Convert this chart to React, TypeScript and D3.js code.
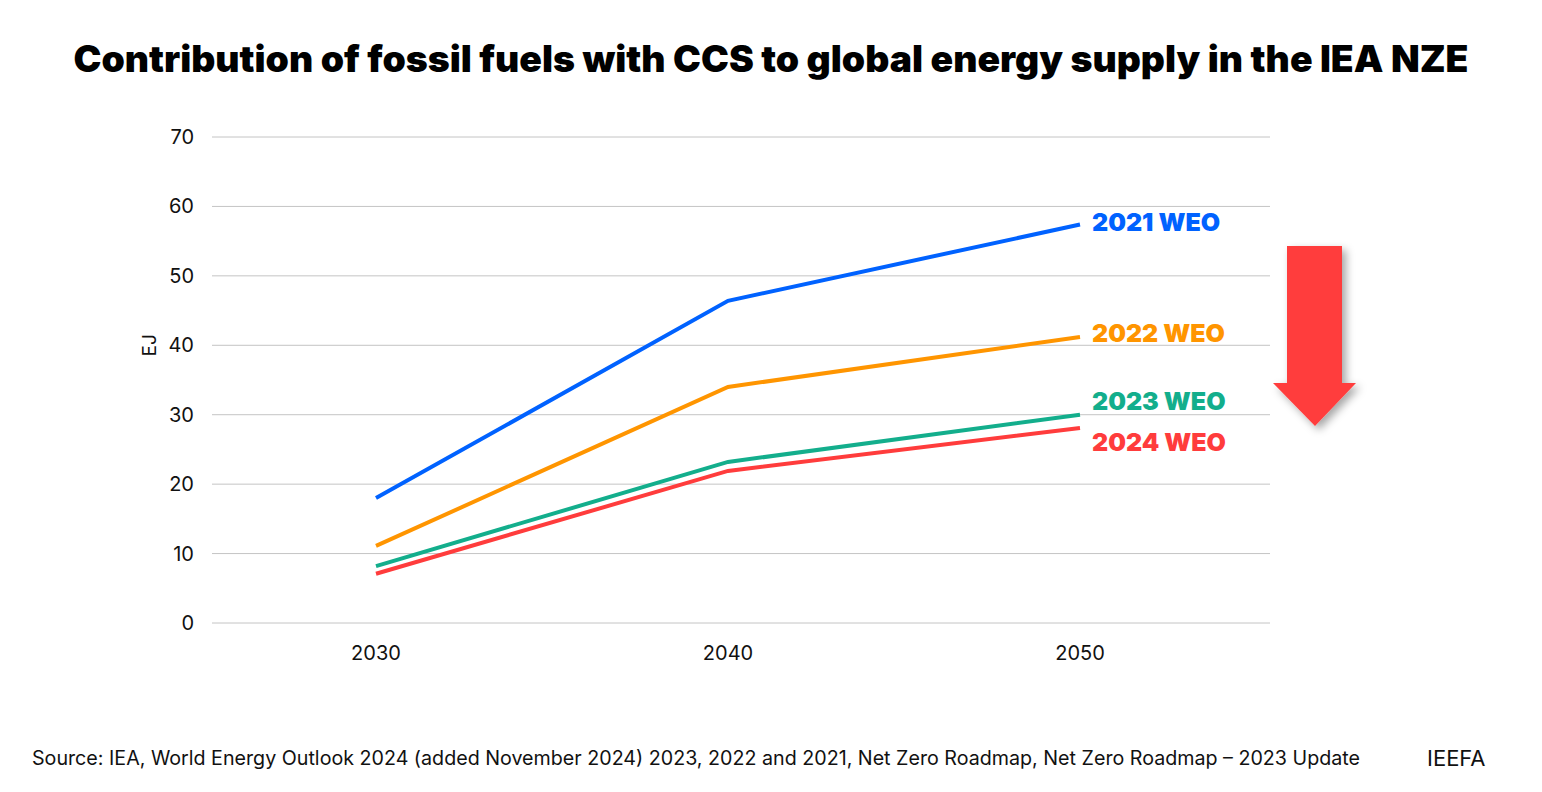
import React from "react";
import * as d3 from "d3";

const years = [2030, 2040, 2050];
const seriesNames = ["2021 WEO", "2022 WEO", "2023 WEO", "2024 WEO"];
const weo2021 = [18.0, 46.4, 57.4];
const weo2022 = [11.1, 34.0, 41.2];
const weo2023 = [8.2, 23.2, 30.0];
const weo2024 = [7.1, 21.9, 28.1];
const yTicks = [0, 10, 20, 30, 40, 50, 60, 70];
const colors = ["#0062FF", "#FF9500", "#13AE8C", "#FF3C3C"];
const labelY = [222, 333, 401, 442];

export default function App() {
  const W = 1542, H = 792;
  const x = d3.scalePoint<number>().domain(years).range([376, 1080]);
  const y = d3.scaleLinear().domain([0, 70]).range([623, 137]);
  const data = [weo2021, weo2022, weo2023, weo2024];
  const line = d3.line<number>().x((_, i) => x(years[i])!).y((v) => y(v));
  const font = "Inter, 'Noto Sans', sans-serif";
  return (
    <svg width={W} height={H} style={{ position: "absolute", left: 0, top: 0, background: "#fff" }}>
      <defs>
        <filter id="sh" x="-50%" y="-50%" width="200%" height="200%">
          <feDropShadow dx="4" dy="4" stdDeviation="4" floodColor="#000" floodOpacity="0.35" />
        </filter>
      </defs>
      <rect width={W} height={H} fill="#fff" />
      <text x={771} y={72} textAnchor="middle" fontFamily={font} fontWeight={900} fontSize={36.5} fill="#000" textLength={1395} lengthAdjust="spacingAndGlyphs">
        Contribution of fossil fuels with CCS to global energy supply in the IEA NZE
      </text>
      {yTicks.map((t) => (
        <g key={t}>
          <line x1={212} x2={1270} y1={y(t)} y2={y(t)} stroke="#c4c4c4" strokeWidth={1} />
          <text x={194} y={y(t)} dy="0.35em" textAnchor="end" fontFamily={font} fontSize={20} fill="#111">
            {t}
          </text>
        </g>
      ))}
      <text transform={`translate(149,${y(40)}) rotate(-90)`} textAnchor="middle" dy="0.35em" fontFamily={font} fontSize={19} fill="#111">
        EJ
      </text>
      {years.map((yr) => (
        <text key={yr} x={x(yr)!} y={653} dy="0.35em" textAnchor="middle" fontFamily={font} fontSize={20} fill="#111">
          {yr}
        </text>
      ))}
      {data.map((d, i) => (
        <path key={i} d={line(d)!} fill="none" stroke={colors[i]} strokeWidth={4} />
      ))}
      {seriesNames.map((n, i) => (
        <text key={n} x={1092} y={labelY[i]} dy="0.35em" fontFamily={font} fontWeight={900} fontSize={25} fill={colors[i]}>
          {n}
        </text>
      ))}
      <path
        d="M1287,246 L1342,246 L1342,383 L1356,383 L1315,426 L1273,383 L1287,383 Z"
        fill="#FF3E3E"
        filter="url(#sh)"
      />
      <text x={32} y={758} dy="0.35em" fontFamily={font} fontSize={19.5} fill="#111" textLength={1328} lengthAdjust="spacingAndGlyphs">
        Source: IEA, World Energy Outlook 2024 (added November 2024) 2023, 2022 and 2021, Net Zero Roadmap, Net Zero Roadmap – 2023 Update
      </text>
      <text x={1427} y={758} dy="0.35em" fontFamily={font} fontSize={22} fill="#111">
        IEEFA
      </text>
    </svg>
  );
}
